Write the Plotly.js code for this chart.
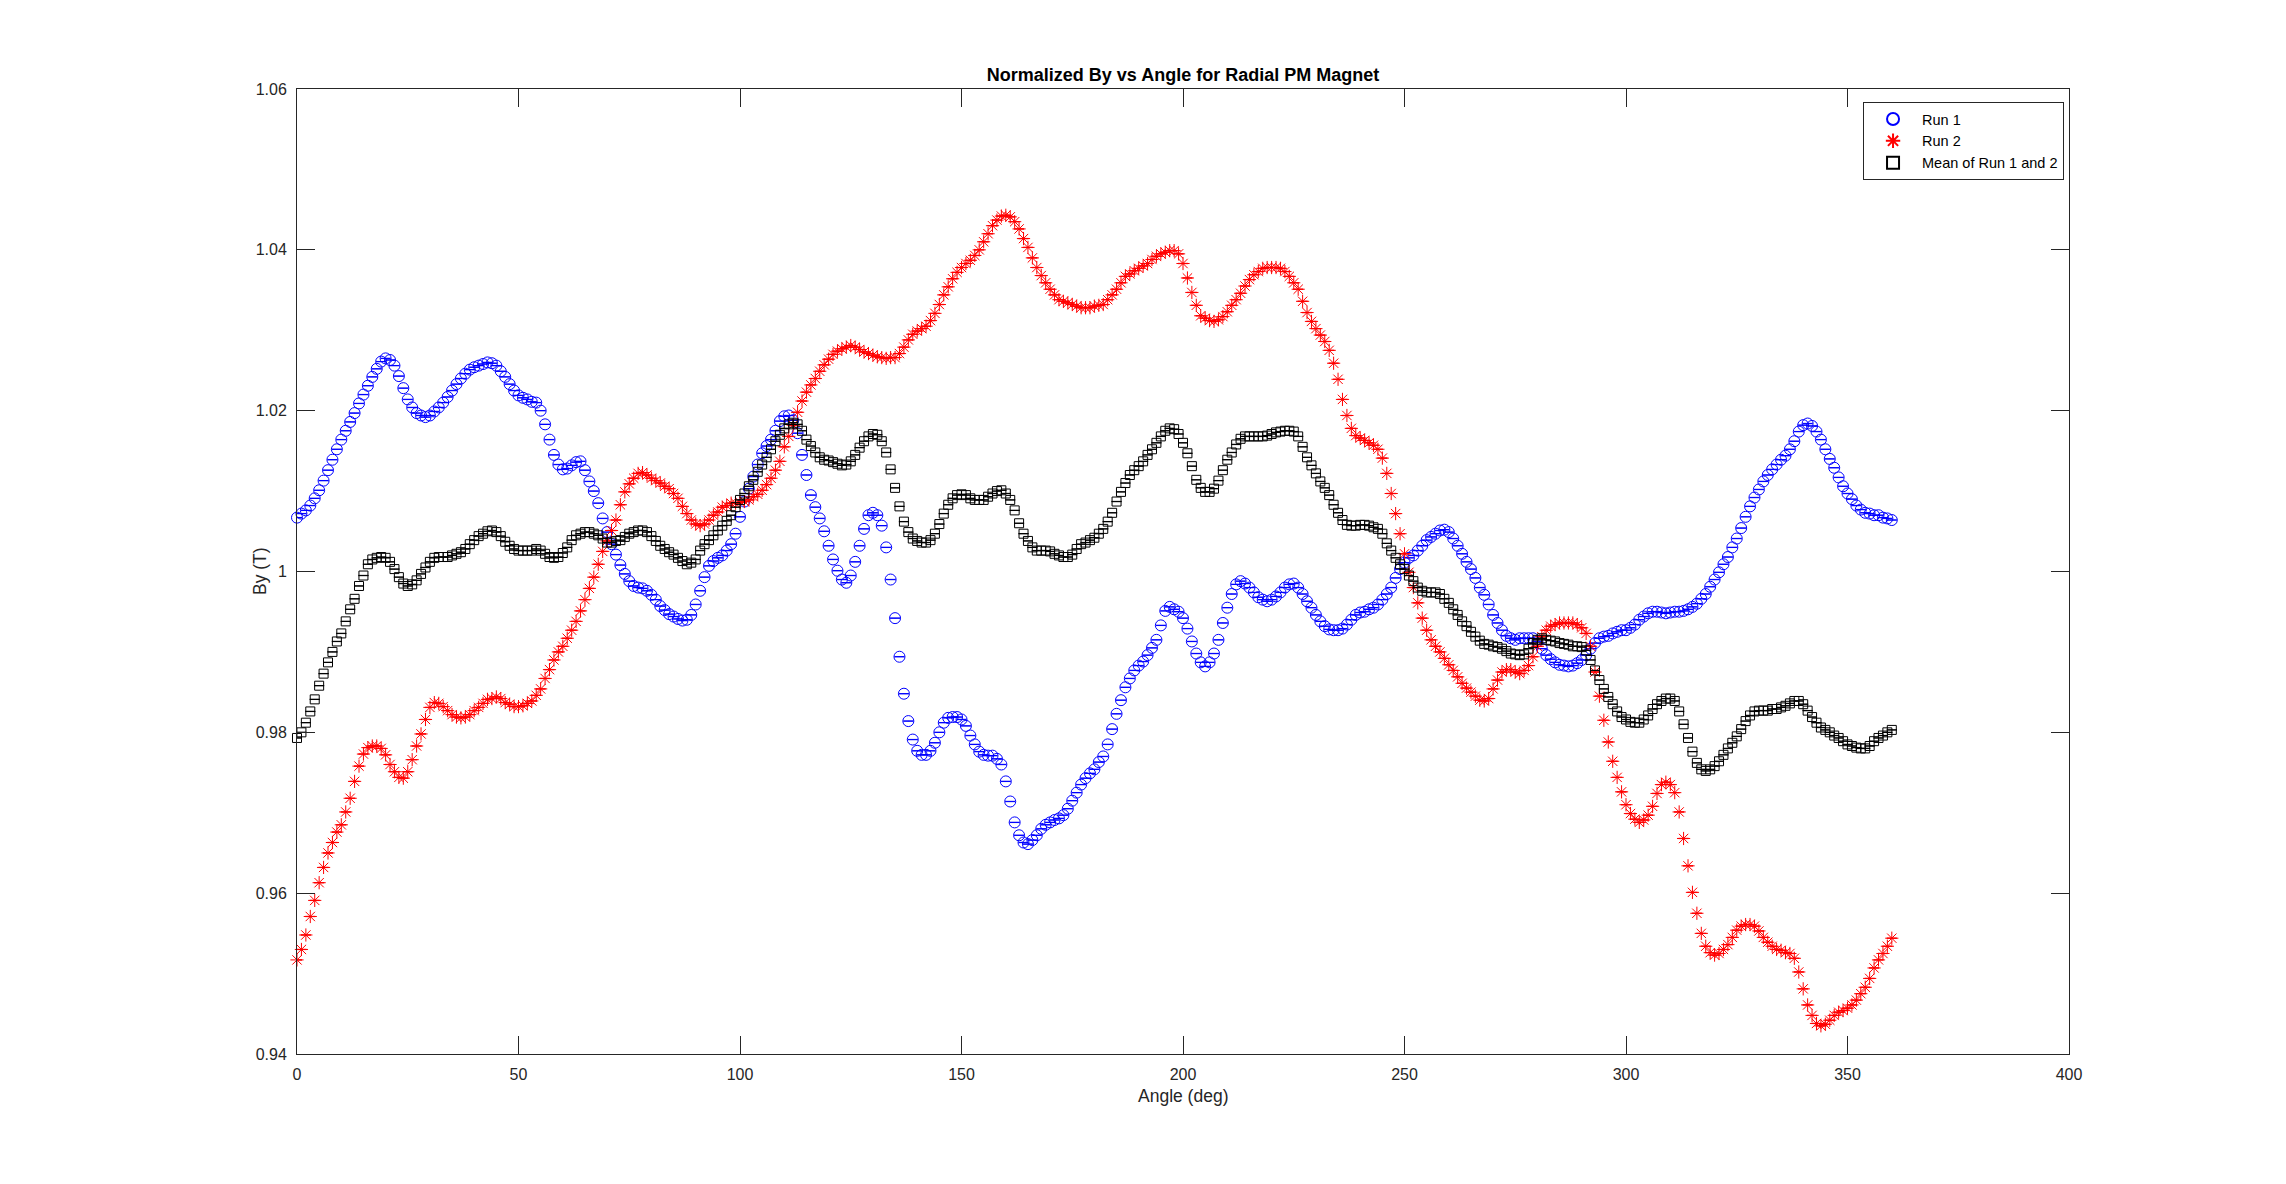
<!DOCTYPE html>
<html>
<head>
<meta charset="utf-8">
<script src="https://cdn.plot.ly/plotly-3.0.1.min.js"></script>
<style>html,body{margin:0;padding:0;background:#fff;}#chart{width:2286px;height:1184px;}</style>
</head>
<body>
<div id="chart"></div>
<script>
// Angle grid: measurements every 1 degree from 0 to 360
const ANGLE_START = 0;
const ANGLE_STEP = 1;

const seriesNames = ["Run 1", "Run 2", "Mean of Run 1 and 2"];

const run1 = [
1.0067,1.0072,1.0076,1.0082,1.0091,1.0101,1.0113,1.0126,1.0139,1.0152,
1.0164,1.0175,1.0186,1.0197,1.0209,1.0220,1.0231,1.0242,1.0252,1.0261,
1.0265,1.0263,1.0256,1.0243,1.0228,1.0214,1.0204,1.0197,1.0194,1.0192,
1.0194,1.0199,1.0204,1.0210,1.0217,1.0225,1.0233,1.0240,1.0246,1.0251,
1.0254,1.0256,1.0258,1.0260,1.0259,1.0256,1.0249,1.0242,1.0233,1.0225,
1.0219,1.0216,1.0214,1.0211,1.0210,1.0200,1.0183,1.0164,1.0145,1.0133,
1.0127,1.0128,1.0132,1.0136,1.0137,1.0126,1.0112,1.0100,1.0085,1.0066,
1.0049,1.0034,1.0021,1.0008,0.9997,0.9988,0.9982,0.9980,0.9979,0.9976,
0.9971,0.9965,0.9957,0.9952,0.9947,0.9944,0.9941,0.9939,0.9940,0.9946,
0.9959,0.9976,0.9993,1.0007,1.0013,1.0017,1.0020,1.0026,1.0034,1.0047,
1.0068,1.0087,1.0103,1.0118,1.0133,1.0147,1.0156,1.0164,1.0175,1.0187,
1.0193,1.0194,1.0188,1.0172,1.0145,1.0120,1.0095,1.0080,1.0066,1.0050,
1.0032,1.0015,1.0001,0.9990,0.9986,0.9995,1.0012,1.0032,1.0053,1.0070,
1.0073,1.0070,1.0057,1.0030,0.9990,0.9942,0.9894,0.9848,0.9814,0.9791,
0.9777,0.9772,0.9772,0.9777,0.9787,0.9800,0.9812,0.9818,0.9819,0.9819,
0.9816,0.9808,0.9796,0.9785,0.9776,0.9772,0.9771,0.9771,0.9767,0.9760,
0.9739,0.9714,0.9688,0.9672,0.9663,0.9661,0.9666,0.9672,0.9680,0.9685,
0.9688,0.9691,0.9693,0.9697,0.9705,0.9715,0.9725,0.9735,0.9743,0.9749,
0.9754,0.9763,0.9770,0.9785,0.9804,0.9823,0.9840,0.9856,0.9867,0.9877,
0.9883,0.9888,0.9896,0.9905,0.9915,0.9933,0.9951,0.9956,0.9953,0.9950,
0.9942,0.9929,0.9913,0.9898,0.9887,0.9882,0.9887,0.9898,0.9915,0.9936,
0.9955,0.9972,0.9984,0.9988,0.9985,0.9980,0.9974,0.9968,0.9965,0.9963,
0.9965,0.9969,0.9974,0.9980,0.9984,0.9985,0.9980,0.9972,0.9963,0.9955,
0.9946,0.9938,0.9932,0.9928,0.9927,0.9927,0.9929,0.9934,0.9940,0.9946,
0.9949,0.9950,0.9953,0.9955,0.9959,0.9965,0.9972,0.9980,0.9992,1.0003,
1.0011,1.0017,1.0020,1.0026,1.0032,1.0039,1.0043,1.0047,1.0051,1.0052,
1.0049,1.0041,1.0032,1.0022,1.0012,1.0003,0.9992,0.9980,0.9971,0.9959,
0.9946,0.9936,0.9927,0.9920,0.9917,0.9915,0.9917,0.9917,0.9917,0.9917,
0.9913,0.9904,0.9896,0.9891,0.9887,0.9884,0.9883,0.9882,0.9883,0.9886,
0.9890,0.9896,0.9904,0.9911,0.9917,0.9919,0.9920,0.9923,0.9925,0.9927,
0.9927,0.9930,0.9934,0.9940,0.9944,0.9948,0.9950,0.9950,0.9949,0.9948,
0.9949,0.9950,0.9950,0.9951,0.9953,0.9956,0.9960,0.9966,0.9972,0.9981,
0.9990,0.9999,1.0009,1.0018,1.0030,1.0041,1.0054,1.0068,1.0081,1.0092,
1.0102,1.0112,1.0120,1.0127,1.0133,1.0139,1.0144,1.0152,1.0162,1.0174,
1.0182,1.0184,1.0181,1.0174,1.0164,1.0152,1.0140,1.0129,1.0117,1.0106,
1.0097,1.0090,1.0082,1.0077,1.0073,1.0072,1.0070,1.0070,1.0067,1.0066,
1.0064
];

const run2 = [
0.9517,0.9530,0.9548,0.9571,0.9591,0.9613,0.9632,0.9650,0.9663,0.9676,
0.9685,0.9701,0.9718,0.9739,0.9758,0.9773,0.9781,0.9783,0.9783,0.9780,
0.9772,0.9760,0.9751,0.9744,0.9743,0.9751,0.9766,0.9783,0.9798,0.9816,
0.9831,0.9837,0.9836,0.9832,0.9827,0.9822,0.9819,0.9818,0.9819,0.9822,
0.9827,0.9831,0.9836,0.9841,0.9842,0.9844,0.9842,0.9837,0.9835,0.9832,
0.9832,0.9833,0.9836,0.9839,0.9846,0.9854,0.9867,0.9878,0.9890,0.9900,
0.9907,0.9917,0.9927,0.9938,0.9951,0.9965,0.9979,0.9993,1.0009,1.0025,
1.0038,1.0051,1.0064,1.0083,1.0099,1.0109,1.0116,1.0122,1.0123,1.0120,
1.0116,1.0113,1.0110,1.0106,1.0103,1.0097,1.0091,1.0081,1.0072,1.0064,
1.0059,1.0057,1.0059,1.0064,1.0070,1.0074,1.0080,1.0082,1.0085,1.0085,
1.0086,1.0087,1.0089,1.0093,1.0096,1.0101,1.0108,1.0116,1.0126,1.0137,
1.0155,1.0168,1.0182,1.0198,1.0212,1.0223,1.0232,1.0240,1.0249,1.0257,
1.0264,1.0270,1.0274,1.0277,1.0279,1.0281,1.0279,1.0276,1.0273,1.0271,
1.0269,1.0267,1.0266,1.0265,1.0266,1.0266,1.0271,1.0279,1.0288,1.0295,
1.0299,1.0302,1.0305,1.0312,1.0321,1.0332,1.0344,1.0354,1.0364,1.0372,
1.0378,1.0383,1.0387,1.0393,1.0400,1.0410,1.0420,1.0430,1.0437,1.0442,
1.0443,1.0441,1.0435,1.0426,1.0414,1.0403,1.0390,1.0378,1.0368,1.0359,
1.0351,1.0344,1.0338,1.0336,1.0334,1.0332,1.0330,1.0328,1.0328,1.0328,
1.0330,1.0331,1.0332,1.0338,1.0344,1.0351,1.0359,1.0367,1.0370,1.0374,
1.0377,1.0380,1.0383,1.0388,1.0392,1.0395,1.0397,1.0399,1.0399,1.0395,
1.0383,1.0365,1.0347,1.0331,1.0318,1.0315,1.0312,1.0311,1.0313,1.0317,
1.0323,1.0331,1.0338,1.0346,1.0355,1.0363,1.0369,1.0373,1.0377,1.0378,
1.0378,1.0378,1.0377,1.0373,1.0367,1.0359,1.0351,1.0336,1.0322,1.0311,
1.0302,1.0294,1.0286,1.0275,1.0259,1.0239,1.0214,1.0194,1.0178,1.0169,
1.0166,1.0163,1.0160,1.0157,1.0152,1.0141,1.0122,1.0097,1.0072,1.0047,
1.0022,0.9999,0.9980,0.9961,0.9942,0.9927,0.9915,0.9907,0.9900,0.9892,
0.9884,0.9877,0.9869,0.9861,0.9855,0.9850,0.9845,0.9840,0.9839,0.9842,
0.9854,0.9865,0.9875,0.9878,0.9878,0.9875,0.9873,0.9877,0.9883,0.9894,
0.9907,0.9919,0.9927,0.9932,0.9934,0.9936,0.9936,0.9936,0.9936,0.9934,
0.9930,0.9923,0.9907,0.9875,0.9845,0.9815,0.9788,0.9764,0.9744,0.9726,
0.9710,0.9699,0.9692,0.9688,0.9691,0.9697,0.9708,0.9724,0.9735,0.9738,
0.9735,0.9725,0.9701,0.9668,0.9634,0.9601,0.9575,0.9550,0.9534,0.9526,
0.9523,0.9525,0.9530,0.9536,0.9545,0.9554,0.9559,0.9561,0.9561,0.9559,
0.9553,0.9545,0.9539,0.9534,0.9530,0.9529,0.9526,0.9525,0.9519,0.9502,
0.9481,0.9461,0.9448,0.9438,0.9435,0.9437,0.9442,0.9448,0.9452,0.9454,
0.9457,0.9461,0.9467,0.9475,0.9483,0.9494,0.9507,0.9517,0.9525,0.9534,
0.9544
];

const meanRun = [
0.9793,0.9800,0.9812,0.9826,0.9841,0.9858,0.9873,0.9887,0.9900,0.9913,
0.9923,0.9938,0.9953,0.9966,0.9982,0.9995,1.0009,1.0015,1.0017,1.0018,
1.0017,1.0012,1.0003,0.9993,0.9985,0.9982,0.9984,0.9989,0.9997,1.0005,
1.0012,1.0017,1.0018,1.0018,1.0018,1.0020,1.0022,1.0024,1.0028,1.0034,
1.0039,1.0044,1.0047,1.0050,1.0051,1.0049,1.0044,1.0037,1.0032,1.0028,
1.0026,1.0026,1.0026,1.0026,1.0028,1.0026,1.0022,1.0018,1.0017,1.0018,
1.0023,1.0030,1.0039,1.0045,1.0047,1.0049,1.0049,1.0047,1.0045,1.0041,
1.0036,1.0036,1.0038,1.0039,1.0043,1.0047,1.0049,1.0051,1.0051,1.0049,
1.0044,1.0038,1.0032,1.0028,1.0024,1.0021,1.0017,1.0013,1.0009,1.0011,
1.0015,1.0026,1.0034,1.0039,1.0045,1.0051,1.0057,1.0063,1.0070,1.0080,
1.0089,1.0097,1.0106,1.0114,1.0124,1.0133,1.0142,1.0152,1.0162,1.0170,
1.0178,1.0183,1.0185,1.0183,1.0175,1.0164,1.0156,1.0148,1.0142,1.0139,
1.0138,1.0136,1.0134,1.0132,1.0133,1.0137,1.0145,1.0154,1.0162,1.0168,
1.0171,1.0170,1.0162,1.0148,1.0127,1.0104,1.0081,1.0062,1.0049,1.0041,
1.0038,1.0036,1.0036,1.0039,1.0047,1.0059,1.0072,1.0083,1.0091,1.0095,
1.0096,1.0095,1.0091,1.0089,1.0089,1.0089,1.0093,1.0097,1.0100,1.0101,
1.0097,1.0089,1.0076,1.0060,1.0047,1.0038,1.0030,1.0026,1.0026,1.0026,
1.0025,1.0022,1.0020,1.0018,1.0018,1.0021,1.0028,1.0034,1.0036,1.0039,
1.0042,1.0047,1.0053,1.0062,1.0073,1.0087,1.0099,1.0110,1.0120,1.0126,
1.0131,1.0137,1.0145,1.0152,1.0160,1.0168,1.0175,1.0178,1.0177,1.0171,
1.0160,1.0147,1.0131,1.0114,1.0104,1.0099,1.0099,1.0103,1.0113,1.0126,
1.0139,1.0148,1.0158,1.0165,1.0168,1.0168,1.0168,1.0168,1.0168,1.0169,
1.0171,1.0173,1.0174,1.0175,1.0175,1.0174,1.0168,1.0155,1.0142,1.0132,
1.0122,1.0112,1.0104,1.0095,1.0083,1.0073,1.0064,1.0058,1.0057,1.0057,
1.0058,1.0058,1.0057,1.0055,1.0053,1.0047,1.0035,1.0026,1.0017,1.0009,
1.0003,0.9995,0.9988,0.9980,0.9976,0.9974,0.9974,0.9974,0.9972,0.9966,
0.9961,0.9953,0.9946,0.9938,0.9932,0.9925,0.9919,0.9914,0.9910,0.9909,
0.9907,0.9906,0.9904,0.9901,0.9898,0.9897,0.9896,0.9897,0.9904,0.9911,
0.9915,0.9917,0.9915,0.9914,0.9913,0.9911,0.9910,0.9909,0.9907,0.9907,
0.9906,0.9902,0.9890,0.9877,0.9865,0.9854,0.9844,0.9835,0.9826,0.9819,
0.9816,0.9813,0.9812,0.9812,0.9816,0.9821,0.9829,0.9835,0.9839,0.9842,
0.9842,0.9839,0.9826,0.9810,0.9793,0.9776,0.9762,0.9754,0.9752,0.9754,
0.9758,0.9764,0.9772,0.9780,0.9787,0.9795,0.9804,0.9814,0.9821,0.9826,
0.9827,0.9827,0.9827,0.9829,0.9829,0.9831,0.9833,0.9836,0.9839,0.9839,
0.9835,0.9827,0.9819,0.9812,0.9806,0.9803,0.9800,0.9796,0.9793,0.9789,
0.9785,0.9783,0.9781,0.9780,0.9780,0.9783,0.9789,0.9793,0.9796,0.9800,
0.9803
];

// Tick labels
const xTickVals = [0, 50, 100, 150, 200, 250, 300, 350, 400];
const xTickText = ["0", "50", "100", "150", "200", "250", "300", "350", "400"];
const yTickVals = [0.94, 0.96, 0.98, 1.00, 1.02, 1.04, 1.06];
const yTickText = ["0.94", "0.96", "0.98", "1", "1.02", "1.04", "1.06"];

const FONT = "'Liberation Sans', Arial, Helvetica, sans-serif";
const AXC = "#262626";

function trace(name, y, symbol, color, size) {
  return {
    type: "scatter",
    mode: "markers",
    name: name,
    x0: ANGLE_START,
    dx: ANGLE_STEP,
    y: y,
    marker: { symbol: symbol, size: size, color: color, line: { color: color, width: 1 } },
    error_y: { type: "constant", value: 0.00002, width: 5, thickness: 1, color: color, visible: true },
    cliponaxis: false
  };
}

const data = [
  trace(seriesNames[0], run1, "circle-open", "#0000ff", 11),
  trace(seriesNames[1], run2, "asterisk-open", "#ff0000", 11),
  trace(seriesNames[2], meanRun, "square-open", "#000000", 9)
];

const layout = {
  width: 2286,
  height: 1184,
  paper_bgcolor: "#ffffff",
  plot_bgcolor: "#ffffff",
  margin: { l: 297, r: 217, t: 89, b: 130, pad: 0 },
  font: { family: FONT, size: 15, color: AXC },
  title: {
    text: "<b>Normalized By vs Angle for Radial PM Magnet</b>",
    font: { family: FONT, size: 18, color: "#000000" },
    x: 0.5, xref: "paper", xanchor: "center",
    y: 1 - 75 / 1184, yref: "container", yanchor: "middle"
  },
  xaxis: {
    range: [0, 400],
    tickvals: xTickVals, ticktext: xTickText,
    ticks: "inside", ticklen: 18, tickwidth: 1, tickcolor: AXC,
    showline: true, linecolor: AXC, linewidth: 1, mirror: "ticks",
    showgrid: false, zeroline: false,
    ticklabelstandoff: 6,
    tickfont: { family: FONT, size: 16, color: AXC },
    title: { text: "" }
  },
  yaxis: {
    range: [0.94, 1.06],
    tickvals: yTickVals, ticktext: yTickText,
    ticks: "inside", ticklen: 18, tickwidth: 1, tickcolor: AXC,
    showline: true, linecolor: AXC, linewidth: 1, mirror: "ticks",
    showgrid: false, zeroline: false,
    ticklabelstandoff: 6,
    tickfont: { family: FONT, size: 16, color: AXC },
    title: { text: "" }
  },
  annotations: [
    {
      text: "Angle (deg)", xref: "paper", yref: "paper",
      x: 0.5, y: -(1096 - 1054) / 965, xanchor: "center", yanchor: "middle",
      showarrow: false, font: { family: FONT, size: 17.5, color: AXC }
    },
    {
      text: "By (T)", xref: "paper", yref: "paper",
      x: -(297 - 259.5) / 1772, y: 0.5, xanchor: "center", yanchor: "middle",
      textangle: -90, showarrow: false, font: { family: FONT, size: 17.5, color: AXC }
    }
  ],
  showlegend: true,
  legend: {
    x: 0.9972, xanchor: "right",
    y: 0.9865, yanchor: "top",
    bgcolor: "#ffffff",
    bordercolor: AXC, borderwidth: 1,
    font: { family: FONT, size: 14.5, color: "#000000" },
    tracegroupgap: 0,
    itemwidth: 48,
    itemsizing: "constant"
  }
};

Plotly.newPlot("chart", data, layout, { displayModeBar: false, staticPlot: true });
</script>
</body>
</html>
